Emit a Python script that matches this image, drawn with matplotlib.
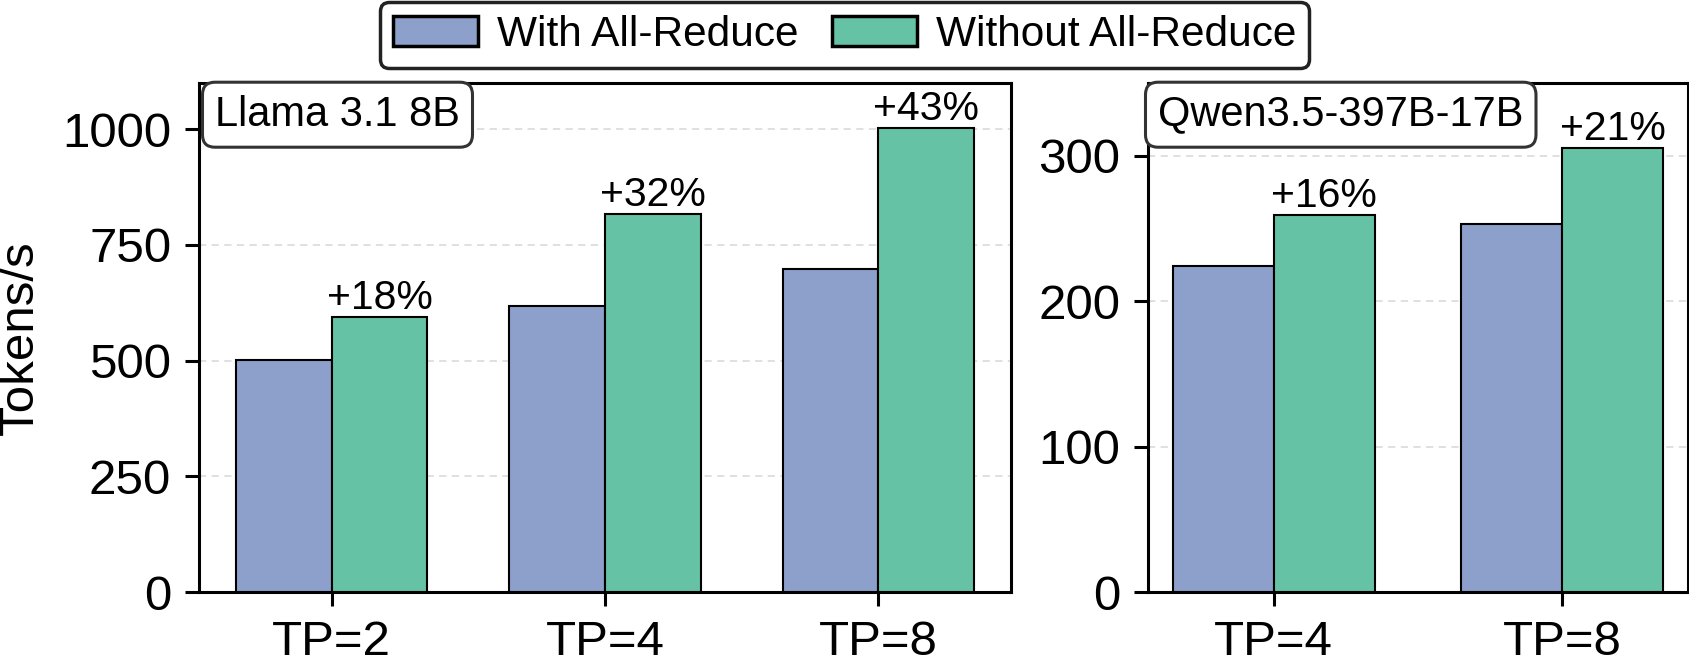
import matplotlib
matplotlib.use("Agg")
import matplotlib.pyplot as plt
import numpy as np
from matplotlib.patches import Patch

plt.rcParams['font.family'] = ['Liberation Sans', 'DejaVu Sans']

# ---- data ----
llama_cats = ["TP=2", "TP=4", "TP=8"]
llama_with = [501, 617, 699]
llama_without = [594, 817, 1002]
llama_labels = ["+18%", "+32%", "+43%"]

qwen_cats = ["TP=4", "TP=8"]
qwen_with = [224, 253]
qwen_without = [259, 305]
qwen_labels = ["+16%", "+21%"]

series_names = ["With All-Reduce", "Without All-Reduce"]
colors = ["#8da0cb", "#66c2a5"]

W, H = 1689, 656
fig = plt.figure(figsize=(W / 100, H / 100), dpi=100)
ax1 = fig.add_axes([199 / W, 64 / H, 812 / W, 509 / H])
ax2 = fig.add_axes([1148 / W, 64 / H, 540 / W, 509 / H])

bw = 0.35


def draw(ax, cats, a, b, labels, title, ylim, yticks, tx):
    x = np.arange(len(cats))
    ax.bar(x - bw / 2, a, bw, color=colors[0], edgecolor="black", linewidth=1.5, zorder=3)
    ax.bar(x + bw / 2, b, bw, color=colors[1], edgecolor="black", linewidth=1.5, zorder=3)
    for xi, v, lab in zip(x, b, labels):
        ax.text(xi + bw / 2, v, lab, ha="center", va="bottom", fontsize=29.5, zorder=5)
    ax.set_xticks(x)
    ax.set_xticklabels(cats)
    ax.set_ylim(*ylim)
    ax.set_yticks(yticks)
    ax.yaxis.grid(True, linestyle=(0, (4, 3)), color="#dddddd", linewidth=1.3)
    ax.set_axisbelow(True)
    for s in ax.spines.values():
        s.set_linewidth(2.2)
        s.set_color("black")
    ax.tick_params(axis="both", labelsize=35.5, length=10, width=2.2, pad=10)
    ax.text(tx, 0.977, title, transform=ax.transAxes, ha="left", va="top", fontsize=30,
            zorder=10, clip_on=False,
            bbox=dict(boxstyle="round,pad=0.3", fc="white", ec="#333333", lw=2.2))


draw(ax1, llama_cats, llama_with, llama_without, llama_labels, "Llama 3.1 8B",
     (0, 1100), [0, 250, 500, 750, 1000], 0.0197)
draw(ax2, qwen_cats, qwen_with, qwen_without, qwen_labels, "Qwen3.5-397B-17B",
     (0, 350), [0, 100, 200, 300], 0.0185)

ax1.set_ylabel("Tokens/s", fontsize=35.5)
ax1.yaxis.set_label_coords(-0.192, 0.5)

handles = [Patch(facecolor=c, edgecolor="black", linewidth=2.5) for c in colors]
leg = fig.legend(handles, series_names, loc="upper center", bbox_to_anchor=(0.5, 1.0),
                 ncol=2, fontsize=30.5, frameon=True, fancybox=True,
                 handlelength=2.0, handleheight=0.7, handletextpad=0.45,
                 columnspacing=0.8, borderpad=0.3, borderaxespad=0.05)
fr = leg.get_frame()
fr.set_edgecolor("#222222")
fr.set_linewidth(2.5)
fr.set_alpha(1)

fig.savefig("out.png", dpi=100)
